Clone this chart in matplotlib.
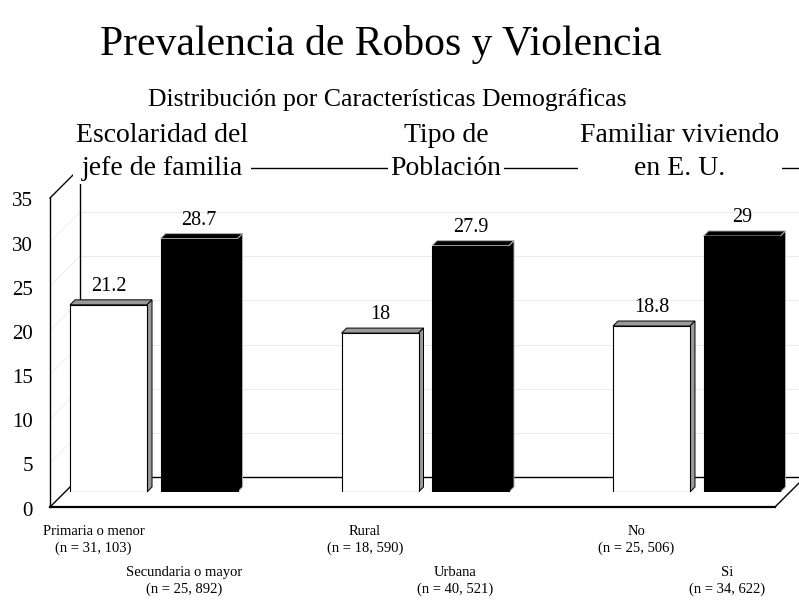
import numpy as np
import matplotlib.pyplot as plt
from matplotlib.patches import Polygon
from matplotlib.transforms import IdentityTransform

plt.rcParams['font.family'] = ['Liberation Serif', 'DejaVu Serif']

groups = ['Escolaridad del\njefe de familia', 'Tipo de\nPoblación', 'Familiar viviendo\nen E. U.']
low_labels = ['Primaria o menor\n(n = 31, 103)', 'Rural\n(n = 18, 590)', 'No\n(n = 25, 506)']
high_labels = ['Secundaria o mayor\n(n = 25, 892)', 'Urbana\n(n = 40, 521)', 'Si\n(n = 34, 622)']
low_vals = [21.2, 18, 18.8]
high_vals = [28.7, 27.9, 29]
yticks = [0, 5, 10, 15, 20, 25, 30, 35]

fig = plt.figure(figsize=(7.99, 6), dpi=100)
ax = fig.add_axes([65 / 799, 0.18, 725 / 799, 0.515])
x0, x1 = -0.327, 2.3435
ax.set_xlim(x0, x1)
ax.set_ylim(0, 35)
ax.axis('off')

D = 15   # half depth of the box, pixels
ID = IdentityTransform()


def P(x, v, d=0):
    # display point of (x, v) moved d pixels into the depth
    px, py = ax.transData.transform((x, v))
    return np.array([px + d, py + d])


def seg(a, b, **kw):
    ax.plot([a[0], b[0]], [a[1], b[1]], transform=ID, clip_on=False, **kw)


# back wall and left wall grid
for v in yticks[1:-1]:
    seg(P(x0, v, D), P(x1, v, D), color='#ececec', lw=0.7, zorder=0)
    seg(P(x0, v, -D), P(x0, v, D), color='#ececec', lw=0.7, zorder=0)

k = dict(color='black', lw=1, zorder=1)
seg(P(x0, 35, D), P(x1 + 0.1, 35, D), **k)
seg(P(x0, 0, D), P(x1, 0, D), **k)
seg(P(x0, 0, D), P(x0, 35, D), **k)
seg(P(x0, 0, -D), P(x0, 35, -D), **k)
seg(P(x0, 35, -D), P(x0, 35, D), **k)
seg(P(x0, 0, -D), P(x0, 0, D), **k)
seg(P(x1, 0, -D), P(x1, 0, D), **k)
seg(P(x0, 0, -D), P(x1, 0, -D), color='black', lw=1.6, zorder=5)

# bars
xs = np.arange(3)
w, sh = 0.2836, 0.1667
b1 = ax.bar(xs - sh, low_vals, w, color='white', edgecolor='black', lw=0.8, zorder=3)
b2 = ax.bar(xs + sh, high_vals, w, color='black', edgecolor='black', lw=0.8, zorder=3)

dd = 5
for bars, fc, ec in [(b1, '#9a9a9a', 'black'), (b2, 'black', '#b0b0b0')]:
    for r in bars:
        x, h, bw = r.get_x(), r.get_height(), r.get_width()
        tl, tr, br = P(x, h), P(x + bw, h), P(x + bw, 0)
        top = [tl, tr, tr + dd, tl + dd]
        side = [tr, br, br + dd, tr + dd]
        for poly in (top, side):
            ax.add_patch(Polygon(poly, closed=True, transform=ID, facecolor=fc,
                                 edgecolor=ec, lw=0.7, zorder=2.9, clip_on=False))
        c = P(x + bw / 2, h) + np.array([0, dd + 4])
        ax.text(c[0], c[1], f'{h:g}', transform=ID, ha='center', va='bottom', fontsize=14.5)

# y tick labels on the front plane
for v in yticks:
    p = P(x0, v, -D)
    ax.text(p[0] - 17, p[1] - 4, str(v), transform=ID, ha='right', va='center', fontsize=15)

# category labels
for i in range(3):
    p = P(xs[i] - sh, 0, -D)
    ax.text(p[0], p[1] - 18, low_labels[i], transform=ID, ha='center', va='top',
            fontsize=10.5, linespacing=1.35)
    p = P(xs[i] + sh, 0, -D)
    ax.text(p[0], p[1] - 59, high_labels[i], transform=ID, ha='center', va='top',
            fontsize=10.5, linespacing=1.35)

# group labels on the back wall
gx = [162, 446, 680]
for g, x in zip(groups, gx):
    fig.text(x / 799, 1 - 152 / 600, g, ha='center', va='center', fontsize=20,
             linespacing=1.4, zorder=10,
             bbox=dict(facecolor='white', edgecolor='none', pad=2))

fig.text(381 / 799, 1 - 45 / 600, 'Prevalencia de Robos y Violencia', ha='center',
         va='center', fontsize=30)
fig.text(387 / 799, 1 - 100 / 600, 'Distribución por Características Demográficas',
         ha='center', va='center', fontsize=18.5)

fig.savefig('out.png', dpi=100)
